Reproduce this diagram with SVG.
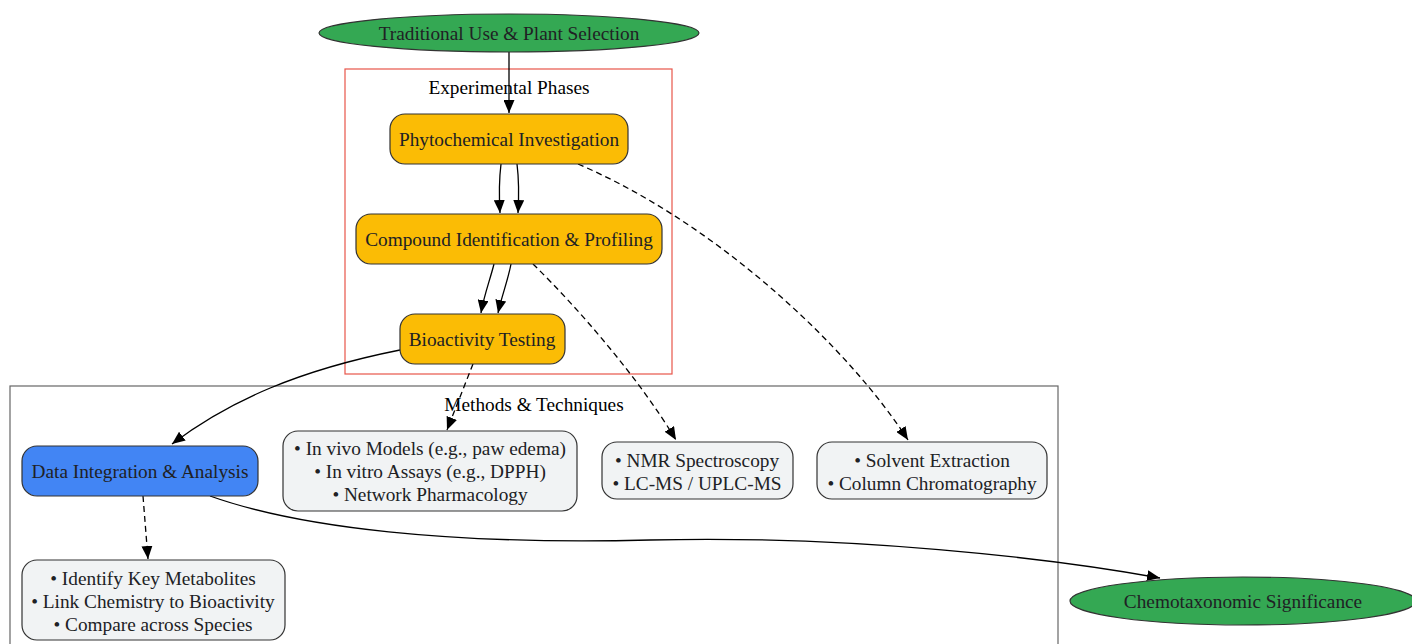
<svg xmlns="http://www.w3.org/2000/svg" width="1412" height="644" viewBox="0 0 1412 644">
<defs>
<marker id="arr" markerUnits="userSpaceOnUse" markerWidth="13" markerHeight="11" refX="13" refY="5.5" orient="auto">
<path d="M0,0 L13,5.5 L0,11 z" fill="#000"/>
</marker>
<style>
text{font-family:"Liberation Serif","Times New Roman",serif;font-size:19.3px;fill:#202124;text-anchor:middle;dominant-baseline:central}
.lbl{fill:#000}
.n{stroke:#333;stroke-width:1.2}
.green{fill:#34A853}
.yellow{fill:#FBBC05}
.blue{fill:#4285F4}
.grey{fill:#F1F3F4}
.e{fill:none;stroke:#000;stroke-width:1.3;marker-end:url(#arr)}
.d{stroke-dasharray:6,4}
</style>
</defs>
<rect width="1412" height="644" fill="#fff"/>
<g id="cluster-experimental">
<rect x="345" y="69" width="327" height="305" fill="none" stroke="#E8554A" stroke-width="1.2"/>
<text class="lbl" x="509" y="87">Experimental Phases</text>
</g>
<g id="cluster-methods">
<rect x="10" y="386" width="1048" height="270" fill="none" stroke="#666" stroke-width="1.2"/>
<text class="lbl" x="534" y="404">Methods &amp; Techniques</text>
</g>
<g id="connectors">
<path class="e" d="M509,52 L509,113"/>
<path class="e" d="M501,164 C499,180 499,195 500,213"/>
<path class="e" d="M517,164 C519,180 519,195 518,213"/>
<path class="e" d="M494,264 C490,280 484,295 481,313"/>
<path class="e" d="M511,264 C508,280 502,295 498,313"/>
<path class="e d" d="M578,164 C720,225 850,350 908,440"/>
<path class="e d" d="M533,264 C580,310 640,380 676,440"/>
<path class="e d" d="M473,364 L447,430"/>
<path class="e" d="M400,350 C300,370 230,400 172,444"/>
<path class="e d" d="M143,496 L148,559"/>
<path class="e" d="M210,496 C300,528 450,545 650,540 C850,535 1050,558 1160,578"/>
</g>
<g id="node-traditional">
<ellipse class="n green" cx="509" cy="33" rx="190" ry="19"/>
<text x="509" y="33">Traditional Use &amp; Plant Selection</text>
</g>
<g id="node-phyto">
<rect class="n yellow" x="390" y="114" width="238" height="50" rx="15"/>
<text x="509" y="139">Phytochemical Investigation</text>
</g>
<g id="node-compound">
<rect class="n yellow" x="356" y="214" width="306" height="50" rx="15"/>
<text x="509" y="239">Compound Identification &amp; Profiling</text>
</g>
<g id="node-bioactivity">
<rect class="n yellow" x="400" y="314" width="165" height="50" rx="15"/>
<text x="482" y="339">Bioactivity Testing</text>
</g>
<g id="node-data">
<rect class="n blue" x="22" y="446" width="236" height="50" rx="15"/>
<text x="140" y="471">Data Integration &amp; Analysis</text>
</g>
<g id="node-invivo">
<rect class="n grey" x="283" y="431" width="294" height="80" rx="15"/>
<text x="430" y="448">• In vivo Models (e.g., paw edema)</text>
<text x="430" y="471">• In vitro Assays (e.g., DPPH)</text>
<text x="430" y="494">• Network Pharmacology</text>
</g>
<g id="node-nmr">
<rect class="n grey" x="602" y="442" width="191" height="57" rx="15"/>
<text x="697" y="460">• NMR Spectroscopy</text>
<text x="697" y="483">• LC-MS / UPLC-MS</text>
</g>
<g id="node-solvent">
<rect class="n grey" x="817" y="442" width="230" height="57" rx="15"/>
<text x="932" y="460">• Solvent Extraction</text>
<text x="932" y="483">• Column Chromatography</text>
</g>
<g id="node-identify">
<rect class="n grey" x="22" y="560" width="263" height="80" rx="15"/>
<text x="153" y="578">• Identify Key Metabolites</text>
<text x="153" y="601">• Link Chemistry to Bioactivity</text>
<text x="153" y="624">• Compare across Species</text>
</g>
<g id="node-chemo">
<ellipse class="n green" cx="1243" cy="601" rx="173" ry="24"/>
<text x="1243" y="601">Chemotaxonomic Significance</text>
</g>
</svg>
